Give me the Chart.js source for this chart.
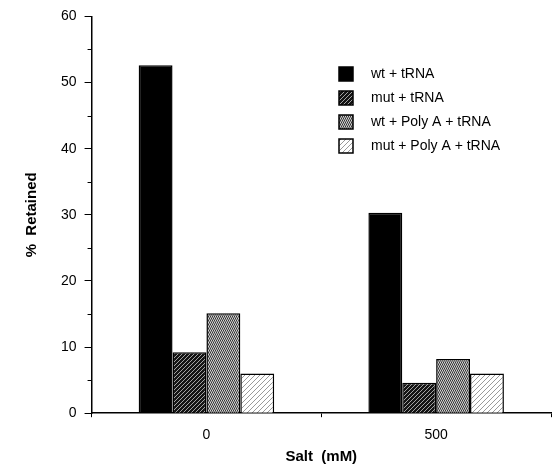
<!DOCTYPE html>
<html>
<head>
<meta charset="utf-8">
<script src="https://cdn.jsdelivr.net/npm/chart.js@4.4.0/dist/chart.umd.min.js"></script>
<style>
  html, body { margin: 0; background: #fff; }
  #wrap { width: 552px; height: 468px; }
</style>
</head>
<body>
<div id="wrap"><canvas id="chart1"></canvas></div>
<script>
// datos
const salt = ['0', '500'];
const seriesNames = ['wt + tRNA', 'mut + tRNA', 'wt + Poly A + tRNA', 'mut + Poly A + tRNA'];
const wtTrna = [52.6, 30.3];
const mutTrna = [9.2, 4.6];
const wtPolyA = [15.1, 8.2];
const mutPolyA = [6.0, 6.0];
const minorTicks = [5, 15, 25, 35, 45, 55];

const FONT = "'Liberation Sans', Arial, Helvetica, sans-serif";

// patrones de relleno
function hatch(bg, fg, gap, lw) {
    const c = document.createElement('canvas');
    c.width = gap; c.height = gap;
    const g = c.getContext('2d');
    g.fillStyle = bg;
    g.fillRect(0, 0, gap, gap);
    g.strokeStyle = fg;
    g.lineWidth = lw;
    g.beginPath();
    g.moveTo(-1, 1); g.lineTo(1, -1);
    g.moveTo(0, gap); g.lineTo(gap, 0);
    g.moveTo(gap - 1, gap + 1); g.lineTo(gap + 1, gap - 1);
    g.stroke();
    return g.createPattern(c, 'repeat');
}

function stipple() {
    const c = document.createElement('canvas');
    c.width = 4; c.height = 4;
    const g = c.getContext('2d');
    g.fillStyle = '#858585';
    g.fillRect(0, 0, 4, 4);
    g.fillStyle = '#333';
    g.fillRect(0, 0, 1, 1); g.fillRect(2, 0, 1, 1); g.fillRect(1, 2, 1, 1); g.fillRect(3, 2, 1, 1);
    g.fillStyle = '#d4d4d4';
    g.fillRect(1, 0, 1, 1); g.fillRect(3, 0, 1, 1); g.fillRect(0, 2, 1, 1); g.fillRect(2, 2, 1, 1);
    return g.createPattern(c, 'repeat');
}

const fills = [
    '#000',
    hatch('#141414', '#c8c8c8', 4, 0.8),
    stipple(),
    hatch('#fff', '#9a9a9a', 5, 1)
];

// leyenda y marcas menores
const extras = {
    id: 'extras',
    afterDraw(chart) {
        const ctx = chart.ctx;
        const y = chart.scales.y;
        ctx.save();
        ctx.strokeStyle = '#000';
        ctx.lineWidth = 1;
        minorTicks.forEach(v => {
            const py = Math.round(y.getPixelForValue(v)) + 0.5;
            ctx.beginPath();
            ctx.moveTo(y.right - 4, py);
            ctx.lineTo(y.right, py);
            ctx.stroke();
        });
        ctx.font = '14px ' + FONT;
        ctx.textBaseline = 'middle';
        chart.data.datasets.forEach((ds, i) => {
            const cy = 74 + i * 24;
            ctx.fillStyle = ds.backgroundColor;
            ctx.fillRect(339, cy - 7, 14, 14);
            ctx.lineWidth = 1.5;
            ctx.strokeRect(339, cy - 7, 14, 14);
            ctx.fillStyle = '#000';
            ctx.fillText(ds.label, 371, cy);
        });
        ctx.restore();
    }
};

const ctx1 = document.getElementById('chart1').getContext('2d');
new Chart(ctx1, {
    type: 'bar',
    data: {
        labels: salt,
        datasets: [wtTrna, mutTrna, wtPolyA, mutPolyA].map((d, i) => ({
            label: seriesNames[i],
            data: d,
            backgroundColor: fills[i],
            borderColor: '#000',
            borderWidth: 1.5,
            barPercentage: 1,
            categoryPercentage: 0.59
        }))
    },
    options: {
        responsive: true,
        maintainAspectRatio: false,
        animation: false,
        layout: { padding: { left: 0, right: 1, top: 8, bottom: 0 } },
        plugins: {
            legend: { display: false },
            tooltip: { enabled: false }
        },
        scales: {
            x: {
                grid: { offset: true, drawOnChartArea: false, tickLength: 4, color: '#000' },
                border: { color: '#000', width: 1.5 },
                ticks: { color: '#000', padding: 10, font: { family: FONT, size: 14 } },
                title: {
                    display: true, text: 'Salt  (mM)', color: '#000',
                    font: { family: FONT, size: 15, weight: 'bold' },
                    padding: { top: -6, bottom: 2 }
                }
            },
            y: {
                min: 0, max: 60,
                grid: { drawOnChartArea: false, tickLength: 7, color: '#000' },
                border: { color: '#000', width: 1.5 },
                ticks: { stepSize: 10, color: '#000', padding: 8, font: { family: FONT, size: 14 } },
                title: {
                    display: true, text: '%  Retained', color: '#000',
                    font: { family: FONT, size: 15, weight: 'bold' },
                    padding: { top: 23, bottom: 12 }
                }
            }
        }
    },
    plugins: [extras]
});
</script>
</body>
</html>
